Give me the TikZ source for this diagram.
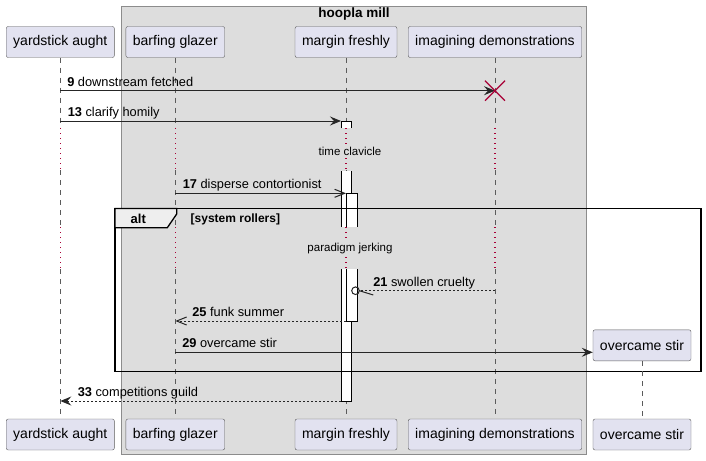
\documentclass[tikz,border=0pt]{standalone}
\usepackage{fontspec}
\setmainfont{Liberation Sans}
\usepackage{xcolor}
\usetikzlibrary{arrows.meta}
\definecolor{partfill}{HTML}{E2E2F0}
\definecolor{partline}{HTML}{5B5B5B}
\definecolor{groupfill}{HTML}{DDDDDD}
\definecolor{groupline}{HTML}{8C8C8C}
\definecolor{delayred}{HTML}{A80036}
\definecolor{tabfill}{HTML}{EEEEEE}
\tikzstyle{participant} = [draw=partline, fill=partfill, rounded corners=2pt,
    minimum height=31, inner xsep=7, font=\fontsize{14}{16}\selectfont]
\tikzstyle{lifeline} = [draw=partline, dash pattern=on 5pt off 5pt]
\tikzstyle{delayline} = [draw=delayred, line width=1.3, dash pattern=on 1.3pt off 3.7pt]
\tikzstyle{actbar} = [draw=black, fill=white, line width=1]
\tikzstyle{syncmsg} = [draw=black!85, line width=1,
    -{Stealth[length=11pt, width=9pt, inset=4pt]}]
\tikzstyle{asyncmsg} = [draw=black!85, line width=1,
    -{Straight Barb[length=10pt, width=8pt]}]
\tikzstyle{msgtext} = [inner sep=0, anchor=base west, yshift=4.5,
    font=\fontsize{12.8}{15}\selectfont]
\tikzstyle{delaytext} = [fill=groupfill, inner sep=2, font=\fontsize{11.5}{14}\selectfont]

\begin{document}
\begin{tikzpicture}[x=1pt, y=-1pt]
    \useasboundingbox (0,0) rectangle (706,460);
    \draw[draw=groupline, fill=groupfill] (121,6) rectangle (586.5,454.5);
    \node[font=\bfseries\fontsize{13.5}{16}\selectfont] (mill) at (354,14.5) {hoopla mill};

    \node[participant] (ya) at (60.3,42) {yardstick aught};
    \node[participant] (bg) at (175.3,42) {barfing glazer};
    \node[participant] (mf) at (346,42) {margin freshly};
    \node[participant] (id) at (495,42) {imagining demonstrations};
    \node[participant] (ya2) at (60.3,434.5) {yardstick aught};
    \node[participant] (bg2) at (175.3,434.5) {barfing glazer};
    \node[participant] (mf2) at (346,434.5) {margin freshly};
    \node[participant] (id2) at (495,434.5) {imagining demonstrations};
    \node[participant] (os2) at (642,434.5) {overcame stir};

    \foreach \p in {ya,bg,mf,id} {
        \draw[lifeline] (\p.south) -- (\p |- 0,128);
        \draw[delayline] (\p |- 0,128) -- (\p |- 0,170);
        \draw[lifeline] (\p |- 0,170) -- (\p |- 0,227);
        \draw[delayline] (\p |- 0,227) -- (\p |- 0,269);
        \draw[lifeline] (\p |- 0,269) -- (\p2.north);
    }

    % activations on margin freshly
    \coordinate (outerl) at (341,0);
    \coordinate (innerl) at (346,0);
    \coordinate (ring) at (355.5,290.7);
    \fill[white] (341,121) rectangle (351,128);
    \draw[actbar] (341,128) -- (341,121) -- (351,121) -- (351,128);
    \fill[white] (341,171) rectangle (351,227);
    \draw[actbar] (341,171) -- (341,227) (351,171) -- (351,227);
    \draw[actbar] (341,269) -- (341,401) -- (351,401) -- (351,269);
    \draw[actbar] (346,227) -- (346,193) -- (357,193) -- (357,227);
    \draw[actbar] (346,269) -- (346,321) -- (357,321) -- (357,269);

    \node[delaytext] (clav) at (350,151) {time clavicle};
    \node[delaytext] (jerk) at (350,249) {paradigm jerking};

    \draw[syncmsg] (ya |- 0,90.7) -- node[msgtext, pos=0, xshift=6.5]
        {\textbf{9} downstream fetched} (id |- 0,90.7);
    \draw[delayred, line width=1.3] (485,80.7) -- (505,100.7) (485,100.7) -- (505,80.7);
    \draw[syncmsg] (ya |- 0,121) -- node[msgtext, pos=0, xshift=7]
        {\textbf{13} clarify homily} (outerl |- 0,121);
    \draw[asyncmsg] (bg |- 0,193.3) -- node[msgtext, pos=0, xshift=7]
        {\textbf{17} disperse contortionist} (innerl |- 0,193.3);

    \draw[line width=1.6] (115,208.5) rectangle (701,371.5);
    \draw[line width=1.3, fill=tabfill] (115,208.5) -- (176.7,208.5) -- (176.7,214)
        -- (167.3,227.7) -- (115,227.7) -- cycle;
    \node[font=\bfseries\fontsize{13}{15}\selectfont] (alt) at (138.3,219) {alt};
    \node[font=\bfseries\fontsize{12}{14}\selectfont, anchor=west, inner sep=0]
        (guard) at (190.5,219) {[system rollers]};

    \draw[draw=black!85, line width=1, dash pattern=on 2pt off 2pt]
        (id |- ring) -- node[msgtext, pos=1, xshift=13.5] {\textbf{21} swollen cruelty}
        ([xshift=3.8]ring);
    \draw[draw=black!85, line width=1] (ring) circle[radius=3.8];
    \draw[draw=black!85, line width=1] ([xshift=3.8]ring) -- ++(14,4.3);
    \draw[asyncmsg, dash pattern=on 2pt off 2pt] (innerl |- 0,321) -- node[msgtext, pos=1, xshift=16.5]
        {\textbf{25} funk summer} (bg |- 0,321);
    \node[participant] (os) at (642,345.3) {overcame stir};
    \draw[syncmsg] (bg |- 0,352.3) -- node[msgtext, pos=0, xshift=6.5]
        {\textbf{29} overcame stir} (os.west |- 0,352.3);
    \draw[lifeline] (os.south) -- (os2.north);
    \draw[syncmsg, dash pattern=on 2pt off 2pt] (outerl |- 0,401) -- node[msgtext, pos=1, xshift=17]
        {\textbf{33} competitions guild} (ya |- 0,401);
\end{tikzpicture}
\end{document}
